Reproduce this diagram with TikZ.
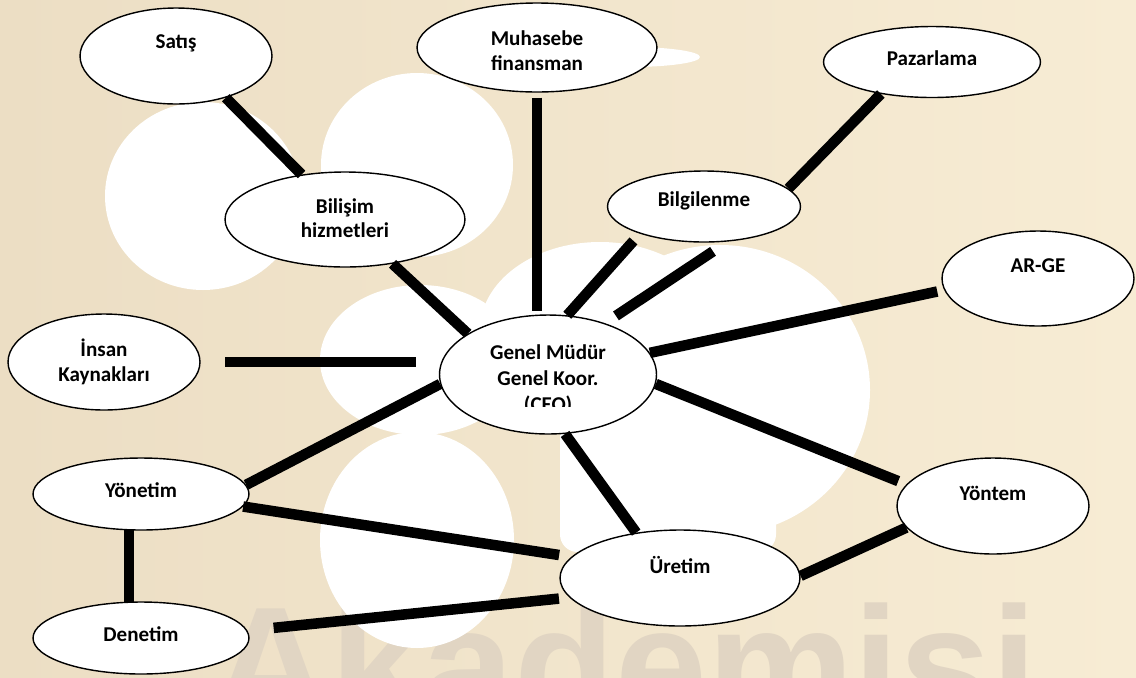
\documentclass[tikz,border=0pt]{standalone}
\usepackage{fontspec}
\setmainfont{Carlito}
\newfontfamily\wmfont{Liberation Sans}
\usetikzlibrary{shapes.geometric}

\definecolor{bgleft}{RGB}{236,222,196}
\definecolor{bgright}{RGB}{247,236,212}
\definecolor{wmgray}{RGB}{225,213,195}

\begin{document}
\begin{tikzpicture}[
  x=0.02cm, y=-0.02cm,
  unit/.style={draw, ellipse, fill=white, line width=0.8pt, inner sep=0pt},
  lbl/.style={align=center, font=\bfseries\fontsize{12}{14}\selectfont, inner sep=0pt},
  blob/.style={fill=white},
  conn/.style={line width=6pt}
]
\useasboundingbox (0,0) rectangle (1136,677);
\clip (0,0) rectangle (1136,677);
% background and watermark
\shade[left color=bgleft, right color=bgright] (0,0) rectangle (1136,677);
\node[font=\wmfont\bfseries\fontsize{94}{94}\selectfont, text=wmgray, anchor=base east, inner sep=0pt] (wmark) at (1038,722) {Akademisi};
% white patches
\fill[blob] (203,196) ellipse [x radius=98, y radius=94];
\fill[blob] (417,165) ellipse [x radius=96, y radius=92];
\fill[blob] (420,360) ellipse [x radius=100, y radius=75];
\fill[blob] (417,540) ellipse [x radius=97, y radius=108];
\fill[blob] (600,330) ellipse [x radius=120, y radius=88];
\fill[blob] (720,390) ellipse [x radius=150, y radius=145];
\fill[blob, rounded corners=10pt] (560,420) rectangle (776,552);
\fill[blob] (630,57) ellipse [x radius=70, y radius=10];

% units
\node[unit, minimum width=3.84cm, minimum height=1.92cm] (sat) at (176,56) {};
\node[unit, minimum width=4.8cm, minimum height=1.78cm] (muh) at (537,47.5) {};
\node[unit, minimum width=4.34cm, minimum height=1.42cm] (paz) at (932,62) {};
\node[unit, minimum width=4.8cm, minimum height=1.9cm] (bh) at (345,219.5) {};
\node[unit, minimum width=3.86cm, minimum height=1.42cm] (bil) at (704,206.5) {};
\node[unit, minimum width=3.84cm, minimum height=1.9cm] (arge) at (1038,278.5) {};
\node[unit, minimum width=3.84cm, minimum height=1.92cm] (ins) at (104,362) {};
\node[unit, minimum width=4.34cm, minimum height=2.38cm] (ceo) at (548,374.5) {};
\node[unit, minimum width=4.32cm, minimum height=1.44cm] (yon) at (141,494) {};
\node[unit, minimum width=4.32cm, minimum height=1.44cm] (den) at (141,638) {};
\node[unit, minimum width=4.8cm, minimum height=1.92cm] (ure) at (680,578) {};
\node[unit, minimum width=3.84cm, minimum height=1.92cm] (yont) at (993,506) {};

% labels
\node[lbl, yshift=7.4pt] (sattxt) at (sat) {Satış};
\node[lbl, yshift=-1.7pt] (muhtxt) at (muh) {Muhasebe\\finansman};
\node[lbl, yshift=2.3pt] (paztxt) at (paz) {Pazarlama};
\node[lbl, yshift=0.8pt] (bhtxt) at (bh) {Bilişim\\hizmetleri};
\node[lbl, yshift=3.1pt] (biltxt) at (bil) {Bilgilenme};
\node[lbl, yshift=7.1pt] (argetxt) at (arge) {AR-GE};
\node[lbl] (instxt) at (ins) {İnsan\\Kaynakları};
\begin{scope}
  \clip (440,330) rectangle (657,406);
  \node[lbl, font=\bfseries\fontsize{12}{14.6}\selectfont, yshift=-3pt] (ceotxt) at (ceo) {Genel Müdür\\Genel Koor.\\(CEO)};
\end{scope}
\node[lbl, yshift=2.3pt] (yontxt) at (yon) {Yönetim};
\node[lbl, yshift=2.3pt] (dentxt) at (den) {Denetim};
\node[lbl, yshift=7.4pt] (uretxt) at (ure) {Üretim};
\node[lbl, yshift=7.4pt] (yonttxt) at (yont) {Yöntem};

% connectors
\draw[conn] (sat.-40) -- (bh.134);
\draw[conn] (bh.-43) -- (ceo.153);
\draw[conn, shorten <=2.8pt, shorten >=1.7pt] (muh.south) -- (muh.south |- ceo.north);
\draw[conn] (paz.212) -- (bil.12);
\draw[conn, shorten <=5.5pt] (bil.203) -- (ceo.72);
\draw[conn, shorten <=10pt, shorten >=7.5pt] (bil.-56) -- (ceo.42);
\draw[conn, shorten >=4pt] (ceo.12) -- (arge.187);
\draw[conn, shorten <=14pt, shorten >=13pt] (ins.east) -- (ins.east -| ceo.west);
\draw[conn] (ceo.185) -- (yon.5);
\draw[conn, shorten >=5pt] (ceo.-5) -- (yont.166);
\draw[conn] (ceo.-74) -- (ure.134);
\draw[conn, shorten >=7pt] (yon.-7) -- (ure.169);
\draw[conn] (yon.-108) -- (den.108);
\draw[conn, shorten <=15pt, shorten >=6pt] (den.4) -- (ure.190);
\draw[conn] (ure.1) -- (yont.194);
\end{tikzpicture}
\end{document}
